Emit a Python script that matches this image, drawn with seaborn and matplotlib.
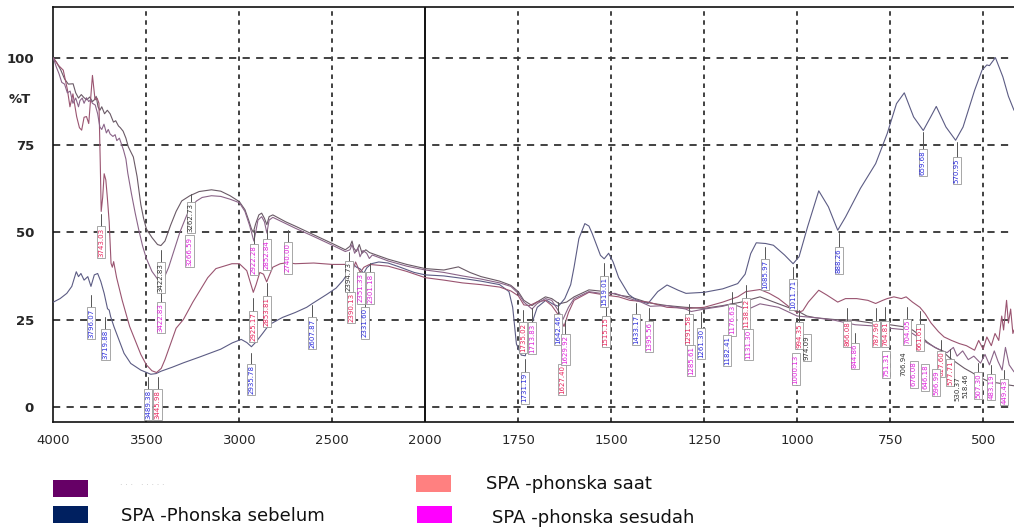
import numpy as np
import pandas as pd
import matplotlib
matplotlib.use("Agg")
import matplotlib.pyplot as plt
from matplotlib.patches import Rectangle
import seaborn as sns

# FTIR spectra (wavenumber cm-1, %T)
sebelum_wn = [4000, 3964, 3928, 3901, 3877, 3865, 3852, 3835, 3815, 3798, 3780, 3762, 3745, 3727,
              3709, 3700, 3692, 3674, 3647, 3620, 3584, 3530, 3476, 3448, 3420, 3362, 3300, 3216,
              3100, 3038, 2990, 2960, 2935, 2910, 2875, 2840, 2768, 2700, 2638, 2607, 2530, 2480,
              2443, 2420, 2403, 2390, 2370, 2350, 2331, 2315, 2290, 2250, 2200, 2135, 2060, 2000,
              1950, 1900, 1850, 1800, 1775, 1765, 1755, 1742, 1731, 1720, 1710, 1699, 1675, 1655,
              1642, 1625, 1609, 1600, 1587, 1571, 1560, 1551, 1529, 1519, 1507, 1495, 1480, 1453,
              1433, 1401, 1375, 1350, 1320, 1299, 1250, 1200, 1160, 1140, 1125, 1110, 1085, 1064,
              1034, 1011, 995, 972, 942, 916, 891, 870, 830, 789, 758, 733, 712, 687, 661, 641,
              626, 600, 574, 554, 523, 503, 490, 483, 467, 447, 432, 417]
sebelum_t = [30, 31, 32.5, 34.5, 38.7, 37.3, 38.2, 36.3, 37.3, 34.5, 37.8, 38.2, 35.9, 32.5,
             28.1, 27.7, 25.8, 22.9, 19.1, 15.3, 12.4, 10.5, 9.3, 9.5, 10.2, 11.3, 12.6, 14.2,
             16.5, 18.3, 19.3, 18.4, 17.2, 18.6, 21, 23.5, 25.6, 27, 28.5, 29.6, 32.2, 34,
             36.2, 38, 40.5, 41, 40, 39.5, 38.2, 39.8, 41, 41.5, 41.2, 40, 38.5, 37.8,
             37.5, 36.8, 36, 35, 33, 28.5, 18, 14.8, 14.6, 21, 25, 28.5, 30.6, 29.3,
             28.8, 31, 35, 40, 48.2, 52.5, 51.8, 49.6, 43.4, 42.4, 44, 41.5, 37, 32.2,
             30.6, 29.6, 33, 34.9, 33.4, 32.5, 32.8, 33.8, 35.3, 38, 43.9, 47, 46.8, 46.3,
             43.5, 41, 43, 51.6, 61.9, 57.3, 50.6, 54.4, 62.6, 69.7, 78.3, 86.9, 90, 83.1, 79.2, 83.1,
             86.1, 80.2, 76.4, 80.2, 90.7, 96.5, 98, 97.8, 100.1, 94.6, 89, 85]

saat_wn = [4000, 3975, 3947, 3925, 3911, 3895, 3875, 3860, 3848, 3835, 3822, 3810, 3800, 3790,
           3776, 3765, 3755, 3748, 3743, 3735, 3727, 3718, 3710, 3700, 3690, 3683, 3676, 3660,
           3648, 3630, 3610, 3590, 3560, 3530, 3500, 3470, 3445, 3420, 3400, 3370, 3340, 3301,
           3250, 3216, 3170, 3126, 3040, 3000, 2960, 2940, 2925, 2910, 2890, 2870, 2853, 2840,
           2820, 2780, 2740, 2700, 2600, 2500, 2420, 2400, 2390, 2375, 2350, 2330, 2300, 2200,
           2100, 2000, 1950, 1900, 1850, 1800, 1770, 1750, 1735, 1720, 1700, 1677, 1660, 1640,
           1627, 1615, 1600, 1560, 1515, 1480, 1450, 1400, 1350, 1291, 1250, 1200, 1160, 1138,
           1100, 1075, 1050, 1020, 1000, 985, 970, 942, 920, 891, 870, 840, 810, 789, 770, 758,
           740, 720, 707, 690, 670, 656, 640, 620, 605, 585, 564, 545, 523, 512, 500, 490, 478,
           468, 458, 450, 445, 437, 432, 426, 420, 417]
saat_t = [100, 98, 96.5, 91, 86, 89.7, 83.2, 80, 79.3, 83, 83.2, 81.2, 88, 95,
          88, 88.5, 87, 70, 56, 60, 66.8, 65, 60, 53, 41.1, 40, 41.6, 37,
          34.4, 30.5, 26.7, 23, 19, 15, 12, 10.3, 9.8, 11, 13.5, 18, 22.5, 25,
          30, 33, 37, 39.6, 41, 41, 39, 35.5, 32.8, 35, 38.5, 38, 35.8, 37.5,
          40, 41, 41.3, 41, 41.2, 40.8, 40.8, 41.5, 39, 41.5, 38.5, 40, 40.8, 40.3,
          38.8, 37, 36.3, 35.5, 35, 34.3, 33.2, 31.8, 29.2, 29, 30, 30.5, 29, 26,
          23, 27, 30.5, 32.8, 32, 31.5, 30.5, 30, 28.5, 28.2, 28.5, 30, 31.5, 33,
          33.6, 32.5, 31, 28.5, 27, 27.5, 30, 33.4, 32, 30, 31, 31, 30.5, 29.6, 30.5, 31,
          31.5, 31, 31.5, 30, 28.5, 26.7, 24, 21.5, 20, 19, 18.1, 17.5, 16.2, 19, 16.5, 20, 17.5,
          21, 19, 26, 22, 30.5, 24, 28, 21, 22]

sesudah_wn = [4000, 3985, 3970, 3955, 3940, 3925, 3910, 3895, 3880, 3865, 3857, 3845, 3835, 3822,
              3810, 3800, 3790, 3775, 3762, 3750, 3740, 3728, 3715, 3705, 3695, 3680, 3668, 3659,
              3645, 3623, 3610, 3600, 3580, 3560, 3540, 3520, 3500, 3470, 3440, 3422, 3400, 3380,
              3350, 3320, 3290, 3266, 3230, 3200, 3150, 3100, 3050, 3000, 2970, 2945, 2930, 2922,
              2912, 2900, 2880, 2865, 2852, 2840, 2820, 2750, 2700, 2600, 2500, 2430, 2405, 2394,
              2380, 2362, 2351, 2335, 2315, 2301, 2285, 2200, 2100, 2000, 1950, 1900, 1850, 1800,
              1770, 1750, 1735, 1713, 1700, 1677, 1660, 1645, 1630, 1615, 1600, 1560, 1515, 1490,
              1450, 1420, 1395, 1350, 1300, 1285, 1250, 1200, 1176, 1150, 1131, 1100, 1050, 1000,
              950, 900, 844, 800, 751, 704, 676, 646, 620, 597, 580, 570, 555, 540, 525, 507, 495,
              483, 470, 460, 449, 440, 430, 417]
sesudah_t = [100, 97.5, 95.5, 93, 92.5, 90, 90.5, 87, 88.5, 86, 87.8, 88.5, 87, 88.6,
             87.5, 88, 87, 86.5, 84, 80.2, 79.5, 81, 78.5, 79.5, 78.2, 77.5, 78, 76.3,
             77, 73.6, 71, 67, 61, 55.5, 50.5, 46, 42.5, 38.8, 36.6, 36.2, 37.5, 40,
             45, 50, 54, 57, 59, 60, 60.5, 60.3, 59.5, 58.5, 56, 52, 49, 47.5,
             50, 53.5, 54.5, 53, 49.8, 53.5, 54.3, 52.5, 51.2, 48.8, 46.3, 44.5, 45, 46.5,
             44, 45.5, 43, 44.8, 44, 42.5, 43.5, 41.8, 40.3, 39.2, 38.5, 37.5, 36.6, 35.5,
             34.5, 32.5, 30, 28, 29.5, 31, 30.5, 28, 25, 28.5, 31, 33, 32.3, 32.5,
             31, 30, 28.8, 29, 28, 27.3, 28, 28.8, 29.5, 28.5, 28, 29.5, 28.5, 26,
             25.5, 24.8, 23.5, 23.2, 22.5, 22, 20, 18, 16.5, 15.5, 17, 14.5, 16, 13.5, 14.5, 12.5, 15,
             12, 16, 13, 10.5, 17, 12, 10]

tanpa_wn = [4000, 3980, 3960, 3940, 3920, 3894, 3880, 3865, 3850, 3835, 3820, 3805, 3790, 3780,
            3770, 3760, 3750, 3740, 3725, 3710, 3695, 3677, 3665, 3650, 3640, 3625, 3610, 3597,
            3570, 3550, 3530, 3515, 3500, 3470, 3440, 3422, 3400, 3370, 3340, 3310, 3266, 3216,
            3150, 3100, 3050, 3000, 2970, 2950, 2935, 2925, 2912, 2895, 2880, 2865, 2852, 2840,
            2820, 2750, 2700, 2600, 2500, 2430, 2405, 2394, 2385, 2370, 2355, 2340, 2320, 2300,
            2200, 2100, 2000, 1950, 1911, 1880, 1850, 1800, 1770, 1750, 1735, 1713, 1700, 1677,
            1660, 1640, 1620, 1600, 1560, 1515, 1480, 1450, 1400, 1350, 1300, 1250, 1200, 1150,
            1100, 1050, 1000, 974, 950, 900, 850, 800, 751, 706, 690, 670, 650, 630, 610, 590,
            570, 550, 530, 518, 505, 490, 475, 460, 445, 430, 417]
tanpa_t = [100, 98.5, 96.5, 94, 92.5, 92.6, 90, 88.5, 89.5, 88.6, 88, 88.8, 87.5, 88,
           89, 86, 85, 86, 84, 85, 84, 81.6, 82, 80.5, 80, 79, 77, 74.5,
           71.6, 66, 58, 54, 51, 48.5, 46.5, 46.2, 47.5, 52, 56, 59, 60.5, 61.7,
           62.2, 61.8, 60.5, 58.8, 56.5, 53.5, 51, 50, 52.5, 55, 55.5, 54, 52.2, 54.5,
           55, 53, 51.8, 49.3, 46.8, 45, 46, 47.5, 45.5, 44.5, 46.5, 44, 45, 44.2,
           42.3, 40.8, 39.6, 39.2, 40.1, 38.5, 37.3, 36, 34.8, 33, 30.5, 29, 30, 31.5,
           31, 29.5, 30, 31.5, 33.5, 33, 32, 31.5, 29.8, 29, 28.5, 28.2, 29, 30,
           31.5, 29.5, 27.5, 26, 25.5, 25, 24.8, 24, 23.5, 22.8, 22, 20.5, 18.5, 17, 16, 14,
           12.5, 11, 9.8, 9, 8.2, 7.5, 7, 6.8, 6.5, 6.2, 6]

major_x = [4000, 3500, 3000, 2500, 2000, 1750, 1500, 1250, 1000, 750, 500]
major_y = [0, 25, 50, 75, 100]

legend_names = ["\u00b7 \u00b7 \u00b7   \u00b7 \u00b7 \u00b7 \u00b7 \u00b7", "SPA -Phonska sebelum",
                "SPA -phonska saat", "SPA -phonska sesudah"]
legend_colors = ["#660066", "#002060", "#ff8080", "#ff00ff"]

# peak labels: text, x, colour, leader top, box top
BL, RD, MG, BK = "#2b2bdc", "#e8245c", "#e020dc", "#333333"
peak_labels = [
    ("3796.07", 3796, BL, 32.0, 28.2), ("3719.88", 3720, BL, 25.8, 22.0),
    ("3743.03", 3743, RD, 55.4, 51.4), ("3422.83", 3422, BK, 44.9, 41.1),
    ("3422.83", 3422, MG, 33.0, 29.6), ("3489.38", 3489, BL, 8.6, 4.8),
    ("3445.98", 3440, RD, 8.6, 4.8), ("3262.73", 3262, BK, 61.0, 58.3),
    ("3266.59", 3268, MG, None, 48.8), ("2922.28", 2922, MG, 50.7, 46.4),
    ("2852.84", 2852, MG, 50.7, 47.8), ("2740.00", 2740, MG, 50.7, 46.8),
    ("2925.17", 2925, RD, 31.1, 27.2), ("2853.81", 2853, RD, 35.4, 31.5),
    ("2935.78", 2935, BL, 15.3, 12.0), ("2607.87", 2607, BL, 29.2, 25.3),
    ("2394.73", 2412, BK, 44.5, 41.6), ("2390.13", 2398, RD, None, 32.6),
    ("2351.33", 2347, MG, None, 38.2), ("2331.60", 2325, BL, 31.0, 28.2),
    ("2301.18", 2296, MG, 41.1, 38.2),
    ("1735.02", 1738, RD, 27.7, 23.9), ("1713.83", 1712, MG, 28.2, 23.9),
    ("1731.19", 1733, BL, 13.8, 9.6), ("1642.46", 1642, BL, 30.1, 26.3),
    ("1627.40", 1632, RD, None, 12.0), ("1629.92", 1623, MG, 24.8, 20.5),
    ("1519.01", 1519, BL, 41.1, 37.2), ("1515.15", 1515, RD, 30.0, 25.8),
    ("1433.17", 1433, BL, 29.6, 26.3), ("1395.56", 1398, MG, 28.2, 24.4),
    ("1291.58", 1292, RD, 29.5, 26.3), ("1285.61", 1285, MG, None, 17.4),
    ("1261.30", 1258, BL, 27.2, 22.4), ("1176.63", 1176, MG, 33.0, 29.1),
    ("1182.41", 1188, BL, None, 20.2), ("1138.12", 1138, RD, 34.9, 31.0),
    ("1131.30", 1131, MG, None, 22.0), ("1085.97", 1086, BL, 45.8, 42.0),
    ("1011.71", 1012, BL, 40.1, 36.3), ("994.35", 994, RD, 27.7, 23.9),
    ("1000.13", 1004, MG, None, 15.0), ("974.09", 974, BK, None, 20.5),
    ("888.26", 888, BL, 49.7, 45.4), ("866.08", 866, RD, 28.2, 24.4),
    ("844.86", 845, MG, 21.0, 18.1), ("787.96", 788, RD, 28.2, 24.4),
    ("764.81", 764, RD, 28.6, 24.4), ("751.31", 760, MG, None, 15.6),
    ("704.05", 704, MG, 28.6, 24.9), ("706.94", 714, BK, None, 16.0),
    ("661.61", 670, RD, 27.5, 23.5), ("676.08", 686, MG, None, 12.9),
    ("646.18", 656, MG, None, 12.0), ("617.60", 613, RD, 19.0, 15.8),
    ("596.99", 626, MG, None, 10.5), ("577.71", 588, RD, 16.5, 13.4),
    ("530.37", 570, BK, None, 8.6), ("518.46", 548, BK, None, 9.5),
    ("507.30", 513, MG, 12.5, 9.6), ("483.19", 478, MG, 12.0, 9.2),
    ("449.43", 443, MG, 10.5, 7.7), ("659.68", 662, BL, 78.8, 73.5),
    ("570.95", 571, BL, 75.9, 71.2),
]

sns.set_style("white")
plt.rcParams['font.family'] = ['DejaVu Sans']

frames = [
    pd.DataFrame({'wn': tanpa_wn, 'T': tanpa_t, 'sample': legend_names[0]}),
    pd.DataFrame({'wn': sebelum_wn, 'T': sebelum_t, 'sample': legend_names[1]}),
    pd.DataFrame({'wn': saat_wn, 'T': saat_t, 'sample': legend_names[2]}),
    pd.DataFrame({'wn': sesudah_wn, 'T': sesudah_t, 'sample': legend_names[3]}),
]
df = pd.concat(frames, ignore_index=True)
line_colors = dict(zip(legend_names, ["#6a5a66", "#5c5c84", "#9a5470", "#8a6488"]))

W, H = 1014, 528
fig = plt.figure(figsize=(W / 100, H / 100), dpi=100)
ax = fig.add_axes([53.4 / W, 1 - 421.7 / H, 1 - 53.4 / W, (421.7 - 6.7) / H])

sns.lineplot(data=df, x='wn', y='T', hue='sample', palette=line_colors, estimator=None,
             sort=False, lw=0.8, legend=False, ax=ax, zorder=3)


# the x axis is compressed by 2 above 2000 cm-1
def fwd(w):
    w = np.asarray(w, dtype=float)
    return np.where(w > 2000, 2000 + (w - 2000) / 2, w)


def inv(u):
    u = np.asarray(u, dtype=float)
    return np.where(u > 2000, 2000 + (u - 2000) * 2, u)


ax.set_xscale('function', functions=(fwd, inv))
ax.set_xlim(4000, 417)
ax.set_ylim(-4.3, 114.7)

minor_x = [w for w in range(3900, 2000, -100) if w not in major_x] + \
          [w for w in range(1950, 400, -50) if w not in major_x]
ax.set_xticks(major_x)
ax.set_xticklabels([str(v) for v in major_x])
ax.set_xticks(minor_x, minor=True)
ax.set_yticks(major_y)
ax.set_yticklabels([str(v) for v in major_y], fontweight='bold')
ax.set_yticks([v for v in range(5, 111, 5) if v not in major_y], minor=True)
ax.tick_params(axis='x', which='major', direction='out', length=7, width=1.0,
               color='#444', labelsize=9.5, pad=2)
ax.tick_params(axis='x', which='minor', direction='out', length=5, width=1.0, color='#444')
ax.tick_params(axis='y', which='major', direction='out', length=13, width=1.2,
               color='#666', labelsize=9.5, pad=1)
ax.tick_params(axis='y', which='minor', direction='out', length=6, width=1.0, color='#666')
ax.set_xlabel('')
ax.set_ylabel('')
ax.text(-0.035, 88, '%T', transform=ax.get_yaxis_transform(), ha='center', va='center',
        fontsize=9.5, fontweight='bold')

for s in ['left', 'top', 'bottom']:
    ax.spines[s].set_color('#111')
    ax.spines[s].set_linewidth(1.2)
ax.spines['right'].set_visible(False)

for v in major_y:
    ax.axhline(v, color='#333', lw=1.3, ls=(0, (4, 3.5)), zorder=1)
for w in major_x[1:]:
    if w == 2000:
        ax.axvline(w, color='#111', lw=1.4, zorder=1)
    else:
        ax.axvline(w, color='#333', lw=1.3, ls=(0, (2.5, 2.5)), zorder=1)

for txt, x, col, top, box in peak_labels:
    if top is not None:
        ax.plot([x, x], [top, box], color='#555', lw=0.7, zorder=4)
    bb = None
    if col != BK or txt in ("3422.83", "3262.73", "974.09", "2394.73"):
        bb = dict(boxstyle='square,pad=0.15', fc='white', ec='#999', lw=0.6)
    ax.text(x, box, txt, rotation=90, ha='center', va='top', fontsize=5, color=col,
            bbox=bb, zorder=5, clip_on=True)

# legend under the plot
legend_boxes = [(53, 480), (53, 506), (416, 475), (417, 506)]
legend_text = [(120, 485, 6, '#bbbbbb'), (121, 516, 13, '#111'), (486, 484, 13, '#111'),
               (492, 518, 13, '#111')]
for (bx, by), (tx, ty, fs, tc), name, col in zip(legend_boxes, legend_text, legend_names, legend_colors):
    fig.add_artist(Rectangle((bx / W, 1 - (by + 17) / H), 35 / W, 17 / H,
                             transform=fig.transFigure, facecolor=col, edgecolor='none'))
    fig.text(tx / W, 1 - ty / H, name, fontsize=fs, color=tc, ha='left', va='center')

fig.savefig('out.png', dpi=100)
